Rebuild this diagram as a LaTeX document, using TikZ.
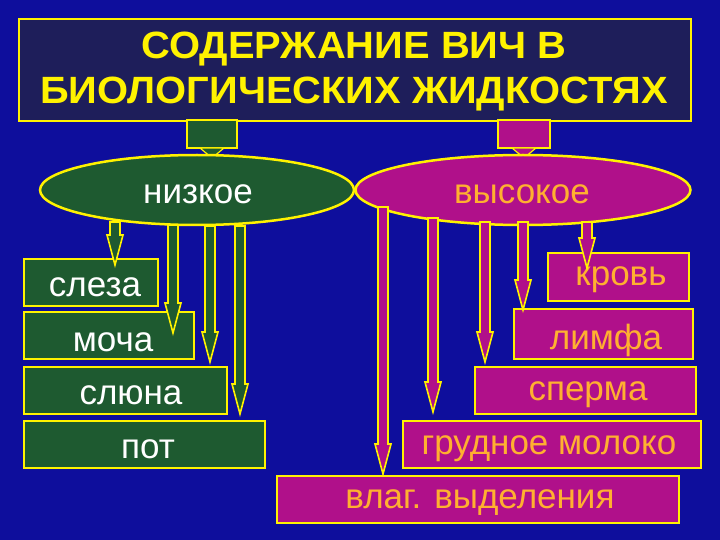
\documentclass[tikz,border=0pt]{standalone}
\usepackage{fontspec}
\setmainfont{Liberation Sans}
\usepackage{graphicx}
\usetikzlibrary{shapes.geometric}
\begin{document}
\begin{tikzpicture}[x=1pt,y=-1pt,
  box/.style={draw=yellow,line width=2.2pt,inner sep=0pt,anchor=north west},
  gbox/.style={box,fill=gfill},
  mbox/.style={box,fill=mfill},
  oval/.style={ellipse,draw=yellow,line width=2.5pt,inner sep=0pt},
  lbl/.style={font=\fontsize{35}{35}\selectfont,inner sep=0pt}]
\definecolor{gfill}{HTML}{1E5A30}
\definecolor{mfill}{HTML}{B0108A}
\definecolor{bg}{HTML}{0E0E9C}
\definecolor{navy}{HTML}{1E1E5A}
\definecolor{otext}{HTML}{FFB030}
\newcommand\barrow[4]{\filldraw[draw=yellow,fill=#4,line width=1.6pt]
  ({#1-5},#2) -- ({#1+5},#2) -- ({#1+5},{#3-30}) -- ({#1+8},{#3-30}) -- (#1,#3) -- ({#1-8},{#3-30}) -- ({#1-5},{#3-30}) -- cycle;}
\fill[bg] (0,0) rectangle (720,540);
\useasboundingbox (0,0) rectangle (720,540);
% title
\node[box,fill=navy,minimum width=672pt,minimum height=102pt,anchor=north west] (title) at (18,18) {};
\node[text=yellow,font=\bfseries\fontsize{38}{45}\selectfont,align=center] (tt) at (354,72)
  {\scalebox{1.05}[1]{СОДЕРЖАНИЕ ВИЧ В}\\\scalebox{1.05}[1]{БИОЛОГИЧЕСКИХ ЖИДКОСТЯХ}};
% stubs
\filldraw[draw=yellow,fill=gfill,line width=1.8pt] (187,120) rectangle (237,148);
\filldraw[draw=yellow,fill=gfill,line width=1.2pt] (200,148) -- (224,148) -- (212,158) -- cycle;
\filldraw[draw=yellow,fill=mfill,line width=1.8pt] (498,120) rectangle (550,148);
\filldraw[draw=yellow,fill=mfill,line width=1.2pt] (512,148) -- (536,148) -- (524,158) -- cycle;
% ellipses
\node[oval,fill=gfill,minimum width=314pt,minimum height=70pt] (low) at (197,190) {};
\node[oval,fill=mfill,minimum width=335pt,minimum height=70pt] (high) at (523,190) {};
\node[lbl,text=white] (lt) at (198,194) {низкое};
\node[lbl,text=otext] (ht) at (522,194) {высокое};
% left boxes
\node[gbox,minimum width=134pt,minimum height=47pt] (b1) at (23,258) {};
\node[gbox,minimum width=170pt,minimum height=47pt] (b2) at (23,311) {};
\node[gbox,minimum width=203pt,minimum height=47pt] (b3) at (23,366) {};
\node[gbox,minimum width=241pt,minimum height=47pt] (b4) at (23,420) {};
\begin{scope}[text=white]
\node[lbl] (t1) at (95,287) {слеза};
\node[lbl] (t2) at (113,342) {моча};
\node[lbl] (t3) at (131,395) {слюна};
\node[lbl] (t4) at (148,449) {пот};
\end{scope}
% right boxes
\node[mbox,minimum width=141pt,minimum height=48pt] (r1) at (547,252) {};
\node[mbox,minimum width=179pt,minimum height=50pt] (r2) at (513,308) {};
\node[mbox,minimum width=221pt,minimum height=47pt] (r3) at (474,366) {};
\node[mbox,minimum width=298pt,minimum height=47pt] (r4) at (402,420) {};
\node[mbox,minimum width=402pt,minimum height=47pt] (r5) at (276,475) {};
\begin{scope}[text=otext]
\node[lbl] (s1) at (621,280) {кровь};
\node[lbl] (s2) at (606,340) {лимфа};
\node[lbl] (s3) at (588,395) {сперма};
\node[lbl] (s4) at (549,449) {грудное молоко};
\node[lbl] (s5) at (480,503) {влаг. выделения};
\end{scope}
% arrows
\barrow{115}{222}{265}{gfill}
\barrow{173}{225}{333}{gfill}
\barrow{210}{226}{362}{gfill}
\barrow{240}{226}{414}{gfill}
\barrow{383}{207}{474}{mfill}
\barrow{433}{218}{412}{mfill}
\barrow{485}{222}{362}{mfill}
\barrow{523}{222}{310}{mfill}
\barrow{587}{222}{268}{mfill}
\end{tikzpicture}
\end{document}
